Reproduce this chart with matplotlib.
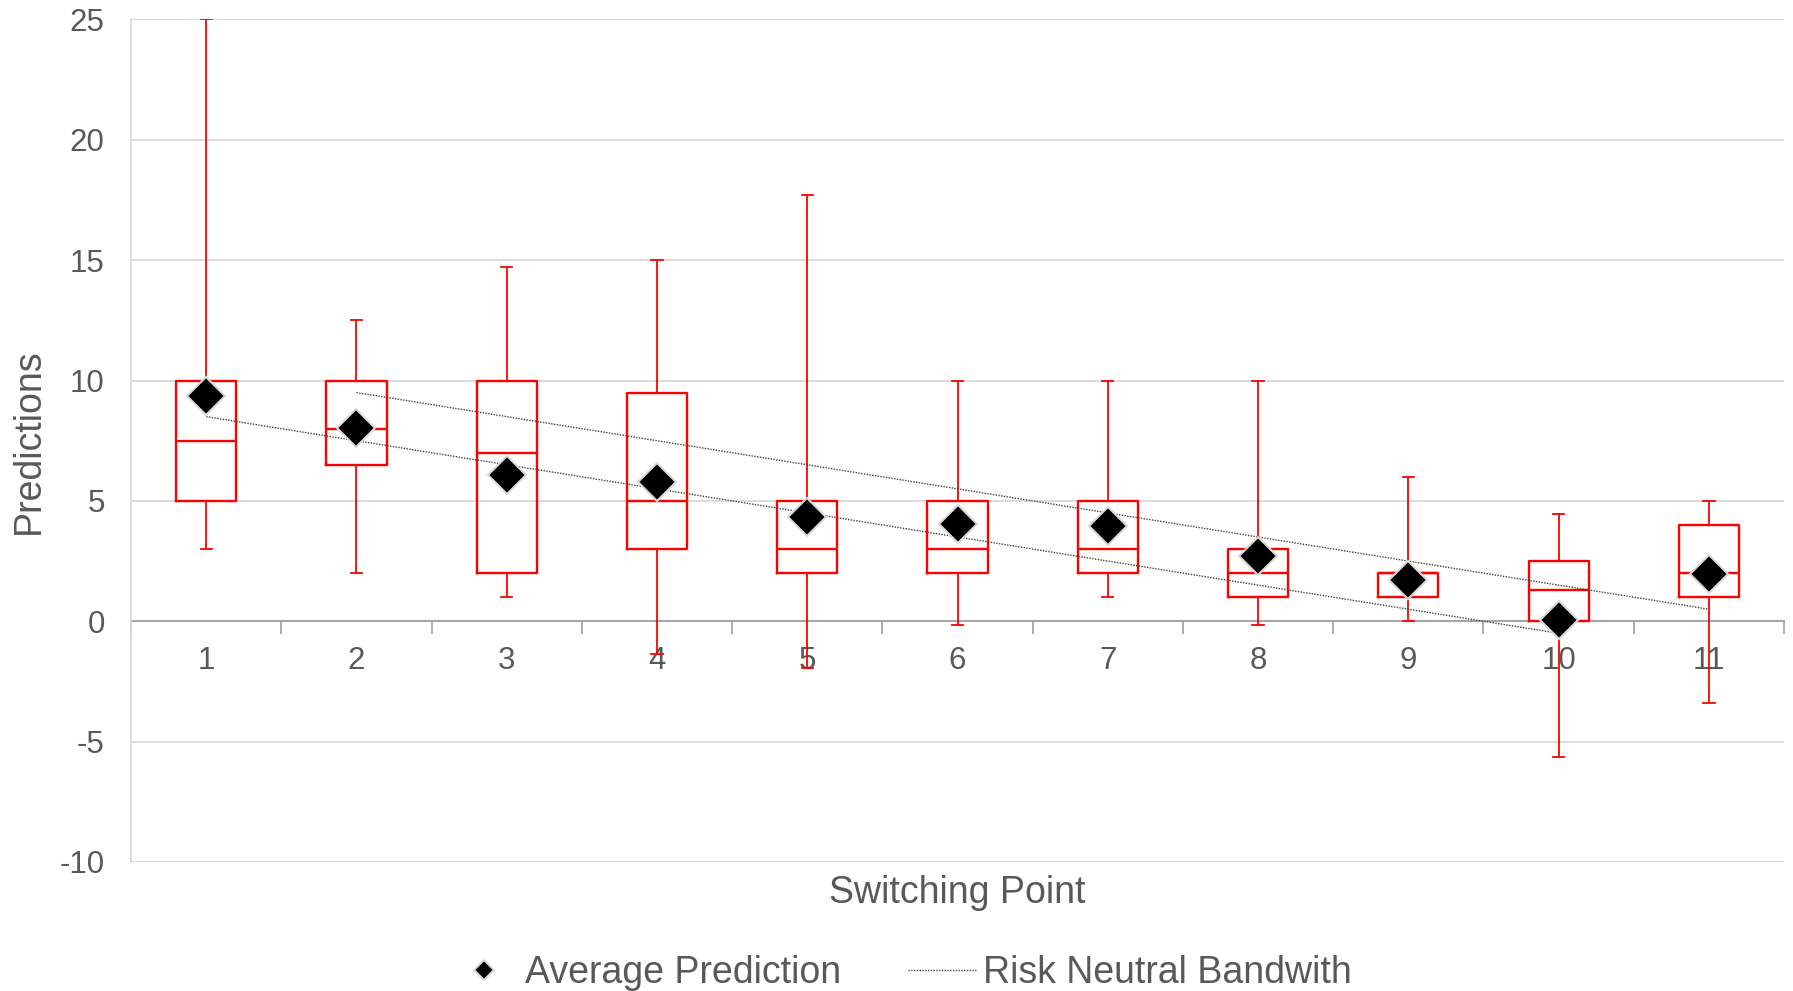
import matplotlib
matplotlib.use("Agg")
import matplotlib.pyplot as plt

plt.rcParams['font.family'] = ['Liberation Sans', 'DejaVu Sans']
plt.rcParams['axes.unicode_minus'] = False

# switching points 1..11
points = [1, 2, 3, 4, 5, 6, 7, 8, 9, 10, 11]

# box plot statistics
whis_hi = [25, 12.5, 14.7, 15, 17.7, 10, 10, 10, 6, 4.45, 5]
q3 = [10, 10, 10, 9.5, 5, 5, 5, 3, 2, 2.5, 4]
median = [7.5, 8, 7, 5, 3, 3, 3, 2, 2, 1.3, 2]
q1 = [5, 6.5, 2, 3, 2, 2, 2, 1, 1, 0, 1]
whis_lo = [3, 2, 1, -1.35, -1.95, -0.15, 1, -0.15, 0, -5.65, -3.4]

# average prediction (diamonds)
avg_pred = [9.36, 8.03, 6.09, 5.78, 4.35, 4.04, 3.95, 2.73, 1.7, 0.04, 1.96]

# risk neutral bandwidth, two straight lines
band_low_x = [1, 2, 3, 4, 5, 6, 7, 8, 9, 10]
band_low = [8.5, 7.5, 6.5, 5.5, 4.5, 3.5, 2.5, 1.5, 0.5, -0.5]
band_high_x = [2, 3, 4, 5, 6, 7, 8, 9, 10, 11]
band_high = [9.5, 8.5, 7.5, 6.5, 5.5, 4.5, 3.5, 2.5, 1.5, 0.5]

text_col = '#595959'
red = '#ff0000'

fig = plt.figure(figsize=(17.93, 9.91), dpi=100)
ax = fig.add_axes([0.0731, 0.1302, 0.9219, 0.8502])

stats = []
for i in range(len(points)):
    stats.append({'whislo': whis_lo[i], 'q1': q1[i], 'med': median[i],
                  'q3': q3[i], 'whishi': whis_hi[i], 'fliers': []})

ax.bxp(stats, positions=points, widths=0.4, capwidths=0.075, showfliers=False,
       boxprops=dict(color=red, linewidth=1.7),
       medianprops=dict(color=red, linewidth=1.7),
       whiskerprops=dict(color=red, linewidth=1.3),
       capprops=dict(color=red, linewidth=1.3),
       manage_ticks=False, zorder=2)

ax.plot(band_low_x, band_low, color='#404040', linestyle=(0, (1, 1)), linewidth=1.0,
        zorder=3, label='Risk Neutral Bandwith')
ax.plot(band_high_x, band_high, color='#404040', linestyle=(0, (1, 1)), linewidth=1.0,
        zorder=3)
ax.plot(points, avg_pred, linestyle='none', marker='D', markersize=19.5,
        markerfacecolor='black', markeredgecolor='#d9d9d9', markeredgewidth=1.5,
        zorder=4, label='Average Prediction')

# axes styling
ax.set_xlim(0.5, 11.5)
ax.set_ylim(-10, 25)
ax.set_yticks(range(-10, 26, 5))
ax.set_xticks(points)
ax.set_xticklabels([str(p) for p in points])
ax.set_xticks([p + 0.5 for p in [0] + points], minor=True)
ax.tick_params(axis='x', which='major', length=0, pad=18, labelsize=22.5, labelcolor=text_col)
ax.tick_params(axis='x', which='minor', length=9, width=1.3, color='#a6a6a6', direction='out')
ax.tick_params(axis='y', length=0, pad=19, labelsize=22.5, labelcolor=text_col)

ax.grid(axis='y', color='#d9d9d9', linewidth=1.3)
ax.set_axisbelow(True)
for s in ['top', 'right']:
    ax.spines[s].set_visible(False)
ax.spines['left'].set_color('#d9d9d9')
ax.spines['left'].set_linewidth(1.3)
ax.spines['bottom'].set_position(('data', 0))
ax.spines['bottom'].set_color('#a6a6a6')
ax.spines['bottom'].set_linewidth(1.5)
ax.spines['bottom'].set_zorder(1.5)

fig.text(0.534, 0.099, 'Switching Point', ha='center', va='center', fontsize=27, color=text_col)
fig.text(0.016, 0.555, 'Predictions', ha='center', va='center', rotation=90,
         fontsize=27, color=text_col)

handles, labels = ax.get_legend_handles_labels()
order = [1, 0]
fig.legend([handles[i] for i in order], [labels[i] for i in order],
           loc='center', bbox_to_anchor=(0.5025, 0.0185), ncol=2, frameon=False,
           fontsize=27, labelcolor=text_col, markerscale=0.52,
           handlelength=1.8, handletextpad=0.2, columnspacing=1.8,
           borderpad=0.2)

fig.savefig('out.png', dpi=100)
